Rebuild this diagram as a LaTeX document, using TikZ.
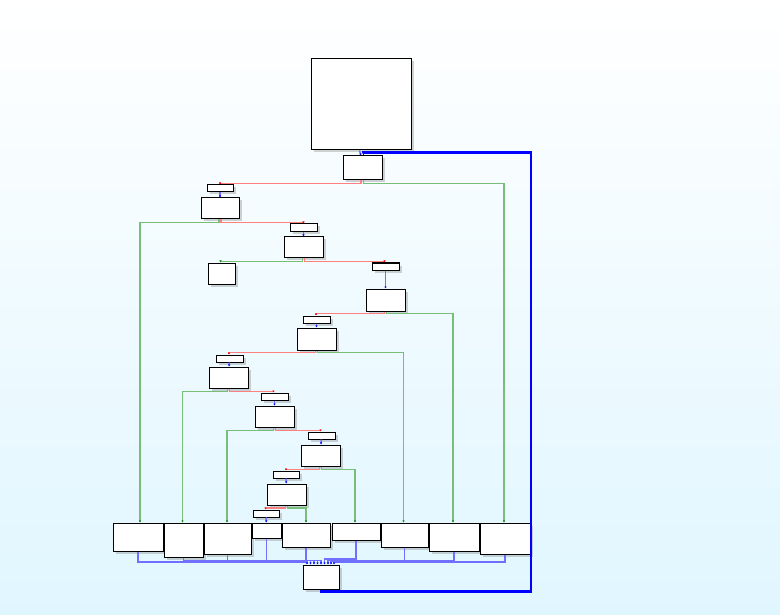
\documentclass[tikz,border=0pt]{standalone}
\usepackage{tikz}
\usepackage{xcolor}
\usetikzlibrary{arrows.meta,shadows}

\definecolor{fondo}{RGB}{224,246,255}
\definecolor{lineaRoja}{RGB}{255,128,128}
\definecolor{lineaVerde}{RGB}{120,190,120}
\definecolor{lineaAzul}{RGB}{112,112,255}

\begin{document}
\begin{tikzpicture}[x=1pt, y=-1pt,
			 bloque/.style={draw, fill=white, line width=1pt, inner sep=0pt,
			   drop shadow={shadow xshift=2.5pt, shadow yshift=-2.5pt, opacity=0.35}},
			 tam/.style 2 args={minimum width=#1pt, minimum height=#2pt},
			 rojo/.style={draw=lineaRoja, line width=1.5pt, -{Latex[length=2pt,width=2.5pt,red]}},
			 verde/.style={draw=lineaVerde, line width=1.5pt, -{Latex[length=2pt,width=2.5pt,green!50!black]}},
			 azul/.style={draw=lineaAzul, line width=1.5pt, -{Latex[length=2pt,width=2.5pt,blue]}},
			 bucle/.style={draw=blue, line width=2.2pt, -{Latex[length=3pt,width=3pt,blue]}}
  		]

	%Fondo
		\shade[top color=white, bottom color=fondo] (0,0) rectangle (780,615);
		\useasboundingbox (0,0) rectangle (780,615);

	%Creamos los bloques
		\node[bloque, tam={100}{91}] (ini) at (361,104.5) {};
		\node[bloque, tam={39}{24}] (a) at (362.5,168) {};
		\node[bloque, tam={26}{7}] (b1) at (220,188.5) {};
		\node[bloque, tam={38}{21}] (b2) at (220,208.5) {};
		\node[bloque, tam={27}{8}] (c1) at (303.5,228) {};
		\node[bloque, tam={39}{21}] (c2) at (303.5,247.5) {};
		\node[bloque, tam={27}{21}] (d) at (221.5,273.5) {};
		\node[bloque, tam={27}{7}] (e1) at (385.5,266.5) {};
		\node[bloque, tam={39}{22}] (e2) at (385.5,300) {};
		\node[bloque, tam={27}{7}] (f1) at (316.5,319.5) {};
		\node[bloque, tam={39}{22}] (f2) at (316.5,339) {};
		\node[bloque, tam={27}{7}] (g1) at (229.5,358.5) {};
		\node[bloque, tam={39}{21}] (g2) at (228.5,377.5) {};
		\node[bloque, tam={27}{7}] (h1) at (274.5,396.5) {};
		\node[bloque, tam={39}{21}] (h2) at (274.5,416.5) {};
		\node[bloque, tam={27}{7}] (i1) at (321.5,435.5) {};
		\node[bloque, tam={39}{21}] (i2) at (320.5,455.5) {};
		\node[bloque, tam={26}{7}] (j1) at (286,474.5) {};
		\node[bloque, tam={39}{21}] (j2) at (286.5,494.5) {};
		\node[bloque, tam={26}{7}] (k1) at (266,513.5) {};
	%Fila de abajo
		\node[bloque, tam={50}{28}] (s1) at (138,537) {};
		\node[bloque, tam={39}{34}] (s2) at (183.5,540) {};
		\node[bloque, tam={47}{31}] (s3) at (227.5,538.5) {};
		\node[bloque, tam={29}{15}] (k2) at (266.5,530.5) {};
		\node[bloque, tam={48}{24}] (s5) at (306,535) {};
		\node[bloque, tam={48}{17}] (s6) at (356,531.5) {};
		\node[bloque, tam={47}{24}] (s7) at (404.5,535) {};
		\node[bloque, tam={50}{28}] (s8) at (454,537) {};
		\node[bloque, tam={50}{31}] (s9) at (505,538.5) {};
		\node[bloque, tam={36}{24}] (fin) at (321,577) {};

	%Saltos directos
		\draw[azul] ([xshift=-1.5pt]ini.south) -- ([xshift=-1.5pt]a.north);
		\draw[azul] (b1) -- (b2);
		\draw[azul] (c1) -- (c2);
		\draw[azul] (e1) -- (e2);
		\draw[azul] (f1) -- (f2);
		\draw[azul] (g1) -- (g2);
		\draw[azul] (h1) -- (h2);
		\draw[azul] (i1) -- (i2);
		\draw[azul] (j1) -- (j2);
		\draw[azul] (k1) -- (k2);
	%Saltos condicionales
		\draw[rojo] ([xshift=-1.5pt]a.south) -- ++(0,3) -| (b1.north);
		\draw[verde] ([xshift=1pt]a.south) -- ++(0,3) -| ([xshift=-1pt]s9.north);
		\draw[verde] ([xshift=-1pt]b2.south) -- ++(0,3) -| ([xshift=2pt]s1.north);
		\draw[rojo] ([xshift=1pt]b2.south) -- ++(0,3) -| (c1.north);
		\draw[verde] ([xshift=-1pt]c2.south) -- ++(0,3) -| ([xshift=-1pt]d.north);
		\draw[rojo] ([xshift=1pt]c2.south) -- ++(0,3) -| ([xshift=-1pt]e1.north);
		\draw[rojo] ([xshift=-1pt]e2.south) -- ++(0,2) -| ([xshift=-0.5pt]f1.north);
		\draw[verde] ([xshift=1pt]e2.south) -- ++(0,2) -| ([xshift=-1pt]s8.north);
		\draw[rojo] ([xshift=-1pt]f2.south) -- ++(0,2) -| ([xshift=-0.5pt]g1.north);
		\draw[verde] ([xshift=1pt]f2.south) -- ++(0,2) -| ([xshift=-1pt]s7.north);
		\draw[verde] ([xshift=-1pt]g2.south) -- ++(0,3) -| ([xshift=-1pt]s2.north);
		\draw[rojo] ([xshift=1pt]g2.south) -- ++(0,3) -| ([xshift=-1pt]h1.north);
		\draw[verde] ([xshift=-1pt]h2.south) -- ++(0,3) -| ([xshift=-0.5pt]s3.north);
		\draw[rojo] ([xshift=1pt]h2.south) -- ++(0,3) -| ([xshift=-1pt]i1.north);
		\draw[rojo] ([xshift=-1pt]i2.south) -- ++(0,3) -| (j1.north);
		\draw[verde] ([xshift=1pt]i2.south) -- ++(0,3) -| ([xshift=-1pt]s6.north);
		\draw[rojo] ([xshift=-1pt]j2.south) -- ++(0,2.5) -| ([xshift=-0.5pt]k1.north);
		\draw[verde] ([xshift=1pt]j2.south) -- ++(0,2.5) -| (s5.north);
	%Todos al bloque final
		\foreach \s/\dx/\dy in {s1/-14/2.5, s2/-10.5/4, s3/-7/4, k2/-3.5/4, s5/0/4,
		                        s6/3.5/5.5, s7/7/4, s8/10/3.5, s9/13/2.5}
		  \draw[azul] (\s.south) |- ([xshift=\dx pt, yshift=\dy pt]fin.north)
		    -- ([xshift=\dx pt]fin.north);
	%Vuelta al inicio del bucle
		\draw[bucle] (fin.south) |- (531,591.5) |- ([xshift=1pt, yshift=3pt]a.north)
		  -- ([xshift=1pt]a.north);
	\end{tikzpicture}
\end{document}
